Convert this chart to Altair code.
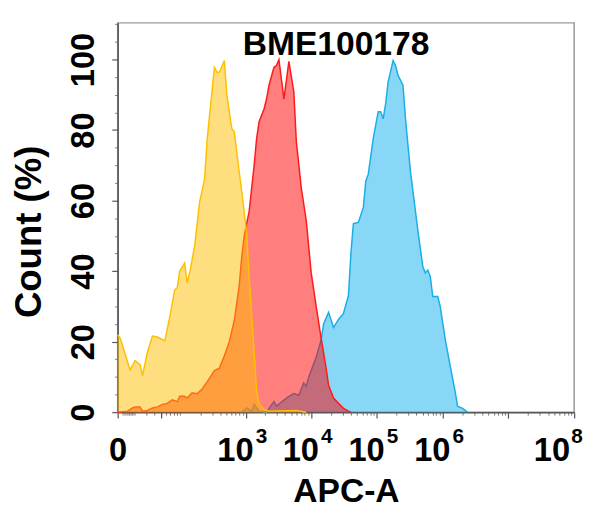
import altair as alt
import pandas as pd

# ---- data (APC-A intensity, Count %) ----
yellow_x = [0, 1.04, 3.4, 6.2, 9.6, 13.5, 15.8, 20.9, 27.1, 34.4, 48.0, 59.3, 72.7, 80.4,
            88.7, 107.7, 118, 130.2, 157.2, 189.2, 227.2, 249, 272.5, 326.3, 357, 390.5,
            466.8, 510, 609, 665.4, 794, 867, 1034, 1129, 1232, 1345, 1468, 1603, 1908,
            2273, 5930, 8401]
yellow_y = [22, 21, 16.5, 12, 14.6, 13.5, 10.4, 17, 21.6, 21.3, 20.2, 27, 34.7, 35.3,
            40, 42.3, 36.7, 39.5, 47, 59.5, 66, 76.8, 84, 97.8, 96.4, 96.4,
            99.7, 89.9, 80.4, 79.6, 68, 62.7, 50.7, 38, 27.5, 17, 5.9, 2.5, 0.8,
            0.3, 0.5, 0]

red_x = [0, 4.7, 7.8, 9.6, 13.5, 15.8, 20.9, 27.1, 34.4, 43.1, 53.4, 65.7, 80.4, 88.7,
         107.7, 118, 143, 172, 207, 249, 326.3, 390.5, 466.8, 557.5, 665.4, 794, 867, 947,
         1129, 1345, 1468, 1603, 1908, 2083, 2273, 2707, 2954, 3223, 3517, 3837, 4567,
         5437, 5930, 7059, 8401, 9997, 11896, 14157, 16846, 18377, 21867, 26020, 30960,
         36838, 40183]
red_y = [0, 0.3, 1.2, 1.5, 1.5, 0.3, 0.5, 1.2, 1.5, 2.2, 2.5, 3.5, 3, 4.5,
         4.5, 4, 5.5, 5.2, 6.5, 8.5, 11.8, 12.5, 16, 20, 26, 36, 44, 50,
         57, 70, 77.6, 82.4, 86, 88.8, 92.7, 97.8, 98.3, 100, 94.4, 88.8, 99.5,
         90.8, 76.8, 63.6, 54.3, 39.5, 30, 21, 12.5, 7.6, 4, 2.5, 1.1,
         0.3, 0]

blue_x = [867, 1034, 1232, 1345, 1603, 2083, 2273, 2707, 2954, 3837, 4567, 5437, 6470,
          7701, 8401, 9165, 10906, 11896, 14157, 15442, 18377, 21867, 26020, 30960,
          36838, 40183, 43832, 52155, 62050, 67693, 73838, 87860, 104530, 113989,
          124340, 135626, 147940, 176030, 192011, 209440, 249200, 271822, 323406,
          419740, 499410, 544750, 594220, 648159, 707010, 841230, 917586, 1091744,
          1298950, 1545520, 1685860, 2005830, 2386530]
blue_y = [0, 1.2, 0.3, 2.2, 0.3, 0, 1.1, 3, 1.7, 3.4, 4.5, 5.3, 4.8,
          8.3, 7.3, 10, 13.7, 15.5, 20.5, 25, 28.3, 24, 26.3, 28,
          33, 45, 53.5, 53.8, 58, 65.5, 67.5, 77.6, 85.2, 85.2,
          83.2, 87.4, 93.6, 99.7, 98.3, 95.5, 92.7, 83.2, 68.3,
          51.5, 41.2, 39.5, 40.3, 38.4, 32.8, 32.8, 30, 20.7,
          13.2, 5.9, 1.7, 1.1, 0]

x_tick_values = [0, 40, 1e3, 1e4, 1e5, 1e6, 1e7, 1e8]
x_label_values = [0, 1e3, 1e4, 1e5, 1e6, 1e8]
x_label_bases = ["0", "10", "10", "10", "10", "10"]
x_exp_values = [1e3, 1e4, 1e5, 1e6, 1e8]
x_exp_texts = ["3", "4", "5", "6", "8"]
x_minor_values = [k * 10 ** n for n in range(0, 8) for k in range(2, 10)]
y_tick_values = [0, 20, 40, 60, 80, 100]
y_minor_values = [5, 10, 15, 25, 30, 35, 45, 50, 55, 65, 70, 75, 85, 90, 95, 105, 110]
title_text = "BME100178"

FONT = "Liberation Sans"

label_expr = " : ".join(
    f"datum.value == {v:g} ? '{t}'" for v, t in zip(x_label_values, x_label_bases)
) + " : ''"

xscale = alt.Scale(type="symlog", constant=11.4, domain=[0, 1e8], nice=False)
yscale = alt.Scale(domain=[0, 110.4], nice=False, zero=True)

x_axis = alt.Axis(
    values=x_tick_values, labelExpr=label_expr, orient="bottom",
    labelFont=FONT, labelFontSize=33, labelFontWeight="bold", labelColor="black",
    labelPadding=17, labelOverlap=False, labelBound=False, labelFlush=False,
    labelOffset={"condition": [{"test": "datum.value >= 100000000", "value": -23},
                               {"test": "datum.value >= 1000", "value": -11}],
                 "value": 0},
    tickSize=6, tickColor="#555", tickWidth=1.2, domainColor="#555", domainWidth=1.5,
    grid=False, title="APC-A", titleFont=FONT, titleFontSize=34, titleFontWeight="bold",
    titleColor="black", titleBaseline="alphabetic", titleY=90, titleX=231, titleAlign="center",
)
y_axis = alt.Axis(
    values=y_tick_values, orient="left",
    labelFont=FONT, labelFontSize=33, labelFontWeight="bold", labelColor="black",
    labelAngle=270, labelAlign="center", labelBaseline="alphabetic", labelPadding=18,
    labelOverlap=False, labelBound=False, labelFlush=False,
    tickSize=6, tickColor="#555", tickWidth=1.2, domainColor="#555", domainWidth=1.5,
    grid=False, title="Count (%)", titleFont=FONT, titleFontSize=37, titleFontWeight="bold",
    titleColor="black", titleAngle=270, titleAlign="center", titleBaseline="alphabetic",
    titleX=-78, titleY=211,
)
x_minor_axis = alt.Axis(values=x_minor_values, orient="bottom", labels=False, domain=False,
                        tickSize=3, tickColor="#777", grid=False, title=None)
y_minor_axis = alt.Axis(values=y_minor_values, orient="left", labels=False, domain=False,
                        tickSize=3, tickColor="#777", grid=False, title=None)


def series(xs, ys, fill, stroke):
    df = pd.DataFrame({"x": xs, "y": ys})
    return alt.Chart(df).mark_area(
        color=fill, fillOpacity=0.5, interpolate="linear",
        line=alt.OverlayMarkDef(color=stroke, strokeWidth=1.5),
    ).encode(
        x=alt.X("x:Q", scale=xscale, axis=x_axis),
        y=alt.Y("y:Q", scale=yscale, axis=y_axis),
    )


areas = alt.layer(
    series(blue_x, blue_y, "#12B0EE", "#1AAEE6"),
    series(red_x, red_y, "#FF0000", "#FF1A1A"),
    series(yellow_x, yellow_y, "#FFBD00", "#FFC000"),
)

minor = alt.Chart(pd.DataFrame({"x": blue_x, "y": blue_y})).mark_point(opacity=0).encode(
    x=alt.X("x:Q", scale=xscale, axis=x_minor_axis),
    y=alt.Y("y:Q", scale=yscale, axis=y_minor_axis),
)

exp_df = pd.DataFrame({"x": x_exp_values, "t": x_exp_texts})
exp_base = alt.Chart(exp_df)
exp_mid = exp_base.transform_filter("datum.x < 100000000").mark_text(
    font=FONT, fontSize=21, fontWeight="bold", color="black",
    align="left", baseline="alphabetic", dx=10,
).encode(x=alt.X("x:Q", scale=xscale, axis=None), y=alt.value(425), text="t:N")
exp_end = exp_base.transform_filter("datum.x >= 100000000").mark_text(
    font=FONT, fontSize=21, fontWeight="bold", color="black",
    align="left", baseline="alphabetic", dx=-3,
).encode(x=alt.X("x:Q", scale=xscale, axis=None), y=alt.value(425), text="t:N")

title = alt.Chart(pd.DataFrame({"t": [title_text]})).mark_text(
    font=FONT, fontSize=34, fontWeight="bold", color="black",
    align="center", baseline="alphabetic",
).encode(x=alt.value(221), y=alt.value(33), text="t:N")

chart = alt.layer(minor, areas, exp_mid, exp_end, title).resolve_axis(
    x="independent", y="independent"
).properties(
    width=462, height=394,
    autosize=alt.AutoSizeParams(type="none"),
    padding={"left": 111, "top": 12, "right": 14, "bottom": 100},
).configure_view(stroke="#999", strokeWidth=1.5)

chart.save("out.html", embed_options={"renderer": "svg", "actions": False})
